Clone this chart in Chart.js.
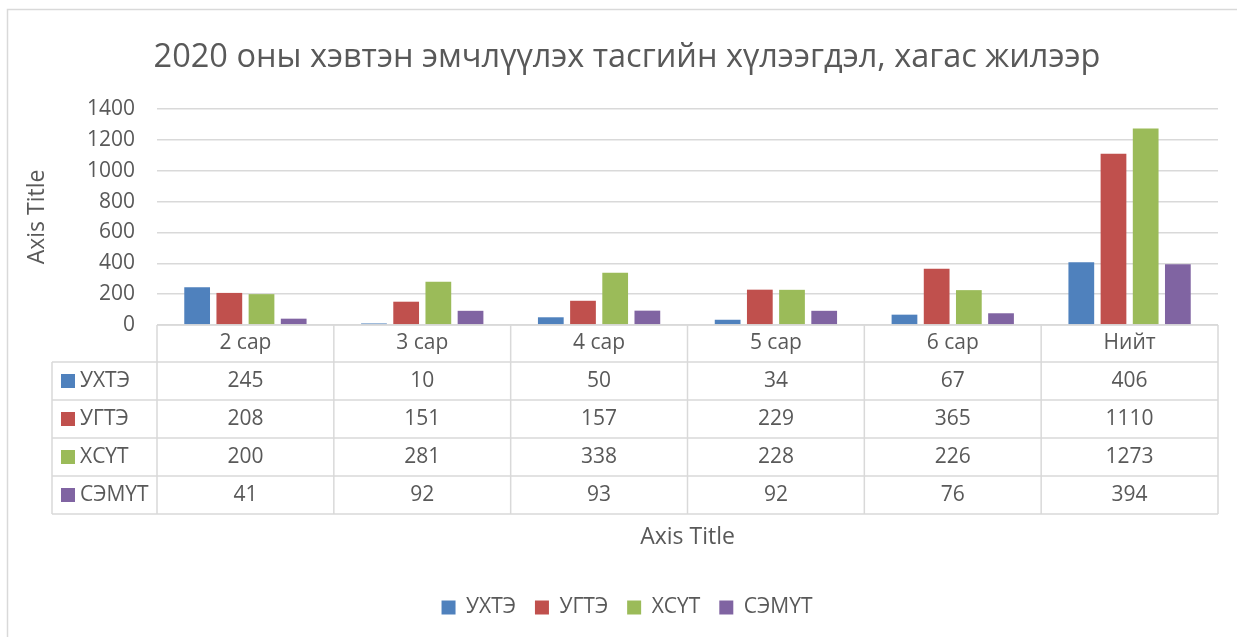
<!DOCTYPE html>
<html>
<head>
<meta charset="utf-8">
<script src="https://cdn.jsdelivr.net/npm/chart.js@4"></script>
<style>
  html, body { margin: 0; padding: 0; background: #fff; overflow: hidden; }
  #wrap { width: 1254px; height: 637px; position: relative; }
</style>
</head>
<body>
<div id="wrap"><canvas id="chart"></canvas></div>
<script>
// DATA
const categories = ["2 сар", "3 сар", "4 сар", "5 сар", "6 сар", "Нийт"];
const seriesNames = ["УХТЭ", "УГТЭ", "ХСҮТ", "СЭМҮТ"];
const uhte  = [245, 10, 50, 34, 67, 406];
const ugte  = [208, 151, 157, 229, 365, 1110];
const hsut  = [200, 281, 338, 228, 226, 1273];
const semut = [41, 92, 93, 92, 76, 394];
const yTicks = [0, 200, 400, 600, 800, 1000, 1200, 1400];

const colors = ["#4F81BD", "#C0504D", "#9BBB59", "#8064A2"];
const values = [uhte, ugte, hsut, semut];
const textColor = "#595959";
const lineColor = "#d9d9d9";
const font = "'Open Sans', sans-serif";

// DATA TABLE (under the plot)
const tablePlugin = {
    id: "dataTable",
    beforeDraw(chart) {
        const ctx = chart.ctx;
        ctx.save();
        ctx.strokeStyle = lineColor;
        ctx.lineWidth = 1.5;
        ctx.strokeRect(7.5, 9.5, 1400, 700);
        ctx.restore();
    },
    afterDraw(chart) {
        const ctx = chart.ctx;
        const x = chart.scales.x;
        const top = chart.chartArea.bottom;
        const headH = 37, rowH = 38;
        const leftX = 52;
        const n = categories.length;
        const half = (x.getPixelForValue(1) - x.getPixelForValue(0)) / 2;
        const colL = x.getPixelForValue(0) - half;
        const colR = x.getPixelForValue(n - 1) + half;
        const bottom = top + headH + rowH * seriesNames.length;

        ctx.save();
        ctx.strokeStyle = lineColor;
        ctx.lineWidth = 1.5;
        ctx.beginPath();
        // horizontal lines
        ctx.moveTo(colL, top); ctx.lineTo(colR, top);
        for (let r = 0; r <= seriesNames.length; r++) {
            const yy = top + headH + r * rowH;
            ctx.moveTo(leftX, yy); ctx.lineTo(colR, yy);
        }
        // vertical lines
        ctx.moveTo(leftX, top + headH); ctx.lineTo(leftX, bottom);
        for (let i = 0; i <= n; i++) {
            const xx = colL + i * half * 2;
            ctx.moveTo(xx, top); ctx.lineTo(xx, bottom);
        }
        ctx.stroke();

        ctx.fillStyle = textColor;
        ctx.font = "21px " + font;
        ctx.textBaseline = "middle";
        ctx.textAlign = "center";
        categories.forEach((c, i) => {
            ctx.fillText(c, x.getPixelForValue(i), top + headH / 2);
        });
        seriesNames.forEach((s, r) => {
            const cy = top + headH + r * rowH + rowH / 2;
            ctx.fillStyle = chart.data.datasets[r].backgroundColor;
            ctx.fillRect(61, cy - 7, 14, 14);
            ctx.fillStyle = textColor;
            ctx.textAlign = "left";
            ctx.fillText(s, 80, cy);
            ctx.textAlign = "center";
            values[r].forEach((v, i) => {
                ctx.fillText(String(v), x.getPixelForValue(i), cy);
            });
        });
        ctx.restore();
    }
};

new Chart(document.getElementById("chart"), {
    type: "bar",
    data: {
        labels: categories,
        datasets: seriesNames.map((s, i) => ({
            label: s,
            data: values[i],
            backgroundColor: colors[i],
            categoryPercentage: 0.728,
            barPercentage: 0.8
        }))
    },
    options: {
        responsive: true,
        maintainAspectRatio: false,
        animation: false,
        layout: { padding: { left: 36, right: 36, top: 0, bottom: 9 } },
        plugins: {
            title: {
                display: true,
                text: "2020 оны хэвтэн эмчлүүлэх тасгийн хүлээгдэл, хагас жилээр",
                color: textColor,
                font: { family: font, size: 32.5, weight: "normal" },
                padding: { top: 38, bottom: 32 }
            },
            legend: {
                position: "bottom",
                labels: {
                    color: textColor,
                    font: { family: font, size: 21 },
                    boxWidth: 14,
                    boxHeight: 14,
                    padding: 19
                }
            },
            tooltip: { enabled: false }
        },
        scales: {
            x: {
                grid: { display: false },
                border: { display: false },
                ticks: { display: false },
                title: {
                    display: true,
                    text: "Axis Title",
                    color: textColor,
                    font: { family: font, size: 23 },
                    padding: { top: 0, bottom: 27 }
                },
                afterFit(scale) { scale.height = 253; }
            },
            y: {
                min: 0,
                max: 1400,
                afterBuildTicks(scale) { scale.ticks = yTicks.map(v => ({ value: v })); },
                grid: { color: lineColor, lineWidth: 1.5, drawTicks: false },
                border: { display: false },
                ticks: {
                    color: textColor,
                    font: { family: font, size: 21 },
                    padding: 22,
                    callback: v => String(v)
                },
                title: {
                    display: true,
                    text: "Axis Title",
                    color: textColor,
                    font: { family: font, size: 23 },
                    padding: { top: -12, bottom: 0 }
                },
                afterFit(scale) { scale.width = 121; }
            }
        }
    },
    plugins: [tablePlugin]
});
</script>
</body>
</html>
